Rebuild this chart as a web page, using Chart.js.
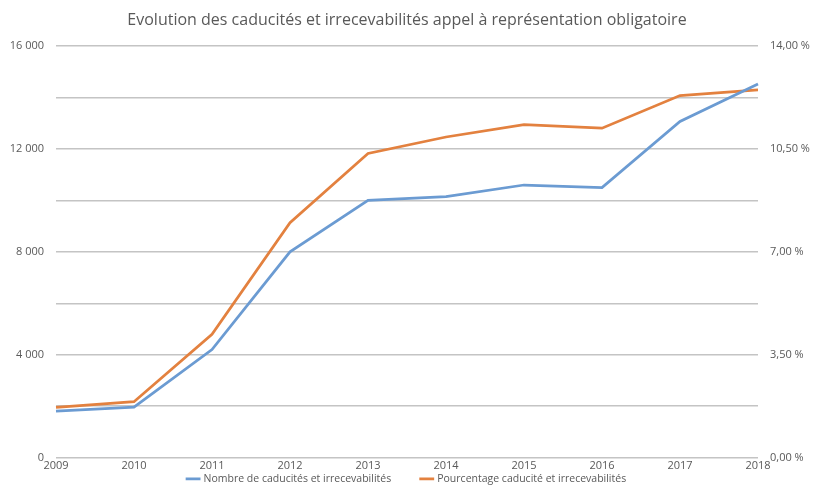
<!DOCTYPE html>
<html>
<head>
<meta charset="utf-8">
<script src="https://cdn.jsdelivr.net/npm/chart.js@4.4.1/dist/chart.umd.min.js"></script>
<style>
  html, body { margin: 0; padding: 0; background: #fff; }
  #wrap { width: 814px; height: 494px; }
</style>
</head>
<body>
<div id="wrap"><canvas id="myChart" width="814" height="494"></canvas></div>
<script>
// years on the x axis
var years = ["2009", "2010", "2011", "2012", "2013", "2014", "2015", "2016", "2017", "2018"];
// number of caducités / irrecevabilités (left axis)
var nombre = [1800, 1960, 4200, 8000, 10000, 10150, 10600, 10500, 13070, 14530];
// percentage (right axis)
var pourcentage = [1.71, 1.90, 4.19, 7.99, 10.35, 10.91, 11.33, 11.21, 12.32, 12.51];

var grey = "#595959";
var fontName = "'Open Sans', 'Noto Sans', sans-serif";

function spaced(v) {
  return String(v).replace(/\B(?=(\d{3})+(?!\d))/g, " ");
}

var ctx = document.getElementById("myChart");
var myChart = new Chart(ctx, {
  type: "line",
  data: {
    labels: years,
    datasets: [
      {
        label: "Nombre de caducités et irrecevabilités",
        data: nombre,
        borderColor: "#6b9bd2",
        backgroundColor: "#6b9bd2",
        borderWidth: 2.75,
        pointRadius: 0,
        tension: 0,
        yAxisID: "y",
      },
      {
        label: "Pourcentage caducité et irrecevabilités",
        data: pourcentage,
        borderColor: "#e3813f",
        backgroundColor: "#e3813f",
        borderWidth: 2.75,
        pointRadius: 0,
        tension: 0,
        yAxisID: "y1",
      },
    ],
  },
  options: {
    responsive: false,
    animation: false,
    layout: { padding: { top: 11, right: 0, bottom: 0, left: 0 } },
    plugins: {
      title: {
        display: true,
        text: "Evolution des caducités et irrecevabilités appel à représentation obligatoire",
        color: grey,
        font: { family: fontName, size: 16, weight: "normal" },
        padding: { top: 0, bottom: 16 },
      },
      legend: {
        position: "bottom",
        labels: {
          usePointStyle: true,
          pointStyle: "line",
          boxWidth: 12,
          color: grey,
          font: { family: fontName, size: 10.5 },
          padding: 3,
          generateLabels: function (chart) {
            var items = Chart.defaults.plugins.legend.labels.generateLabels(chart);
            // wider gap between the two entries, as in the original
            items[0].text = items[0].text + "          ";
            return items;
          },
        },
      },
      tooltip: { enabled: false },
    },
    scales: {
      x: {
        offset: false,
        grid: { display: false, drawTicks: false },
        border: { display: false },
        ticks: { color: grey, font: { family: fontName, size: 11 }, padding: 2, maxRotation: 0 },
        afterFit: function (scale) { scale.height = 13; },
      },
      y: {
        position: "left",
        min: 0,
        max: 16000,
        grid: { color: "#c4c4c4", lineWidth: 1.5, drawTicks: false },
        border: { display: false },
        ticks: {
          stepSize: 2000,
          color: grey,
          font: { family: fontName, size: 11 },
          padding: 12,
          callback: function (v) { return v % 4000 === 0 ? spaced(v) : ""; },
        },
        afterFit: function (scale) { scale.width = 56; },
      },
      y1: {
        position: "right",
        min: 0,
        max: 14,
        grid: { drawOnChartArea: false, drawTicks: false },
        border: { display: false },
        ticks: {
          stepSize: 1.75,
          color: grey,
          font: { family: fontName, size: 11 },
          padding: 12,
          callback: function (v) {
            var r = Math.round(v * 100);
            return r % 350 === 0 ? v.toFixed(2).replace(".", ",") + " %" : "";
          },
        },
        afterFit: function (scale) { scale.width = 56; },
      },
    },
  },
});
</script>
</body>
</html>
